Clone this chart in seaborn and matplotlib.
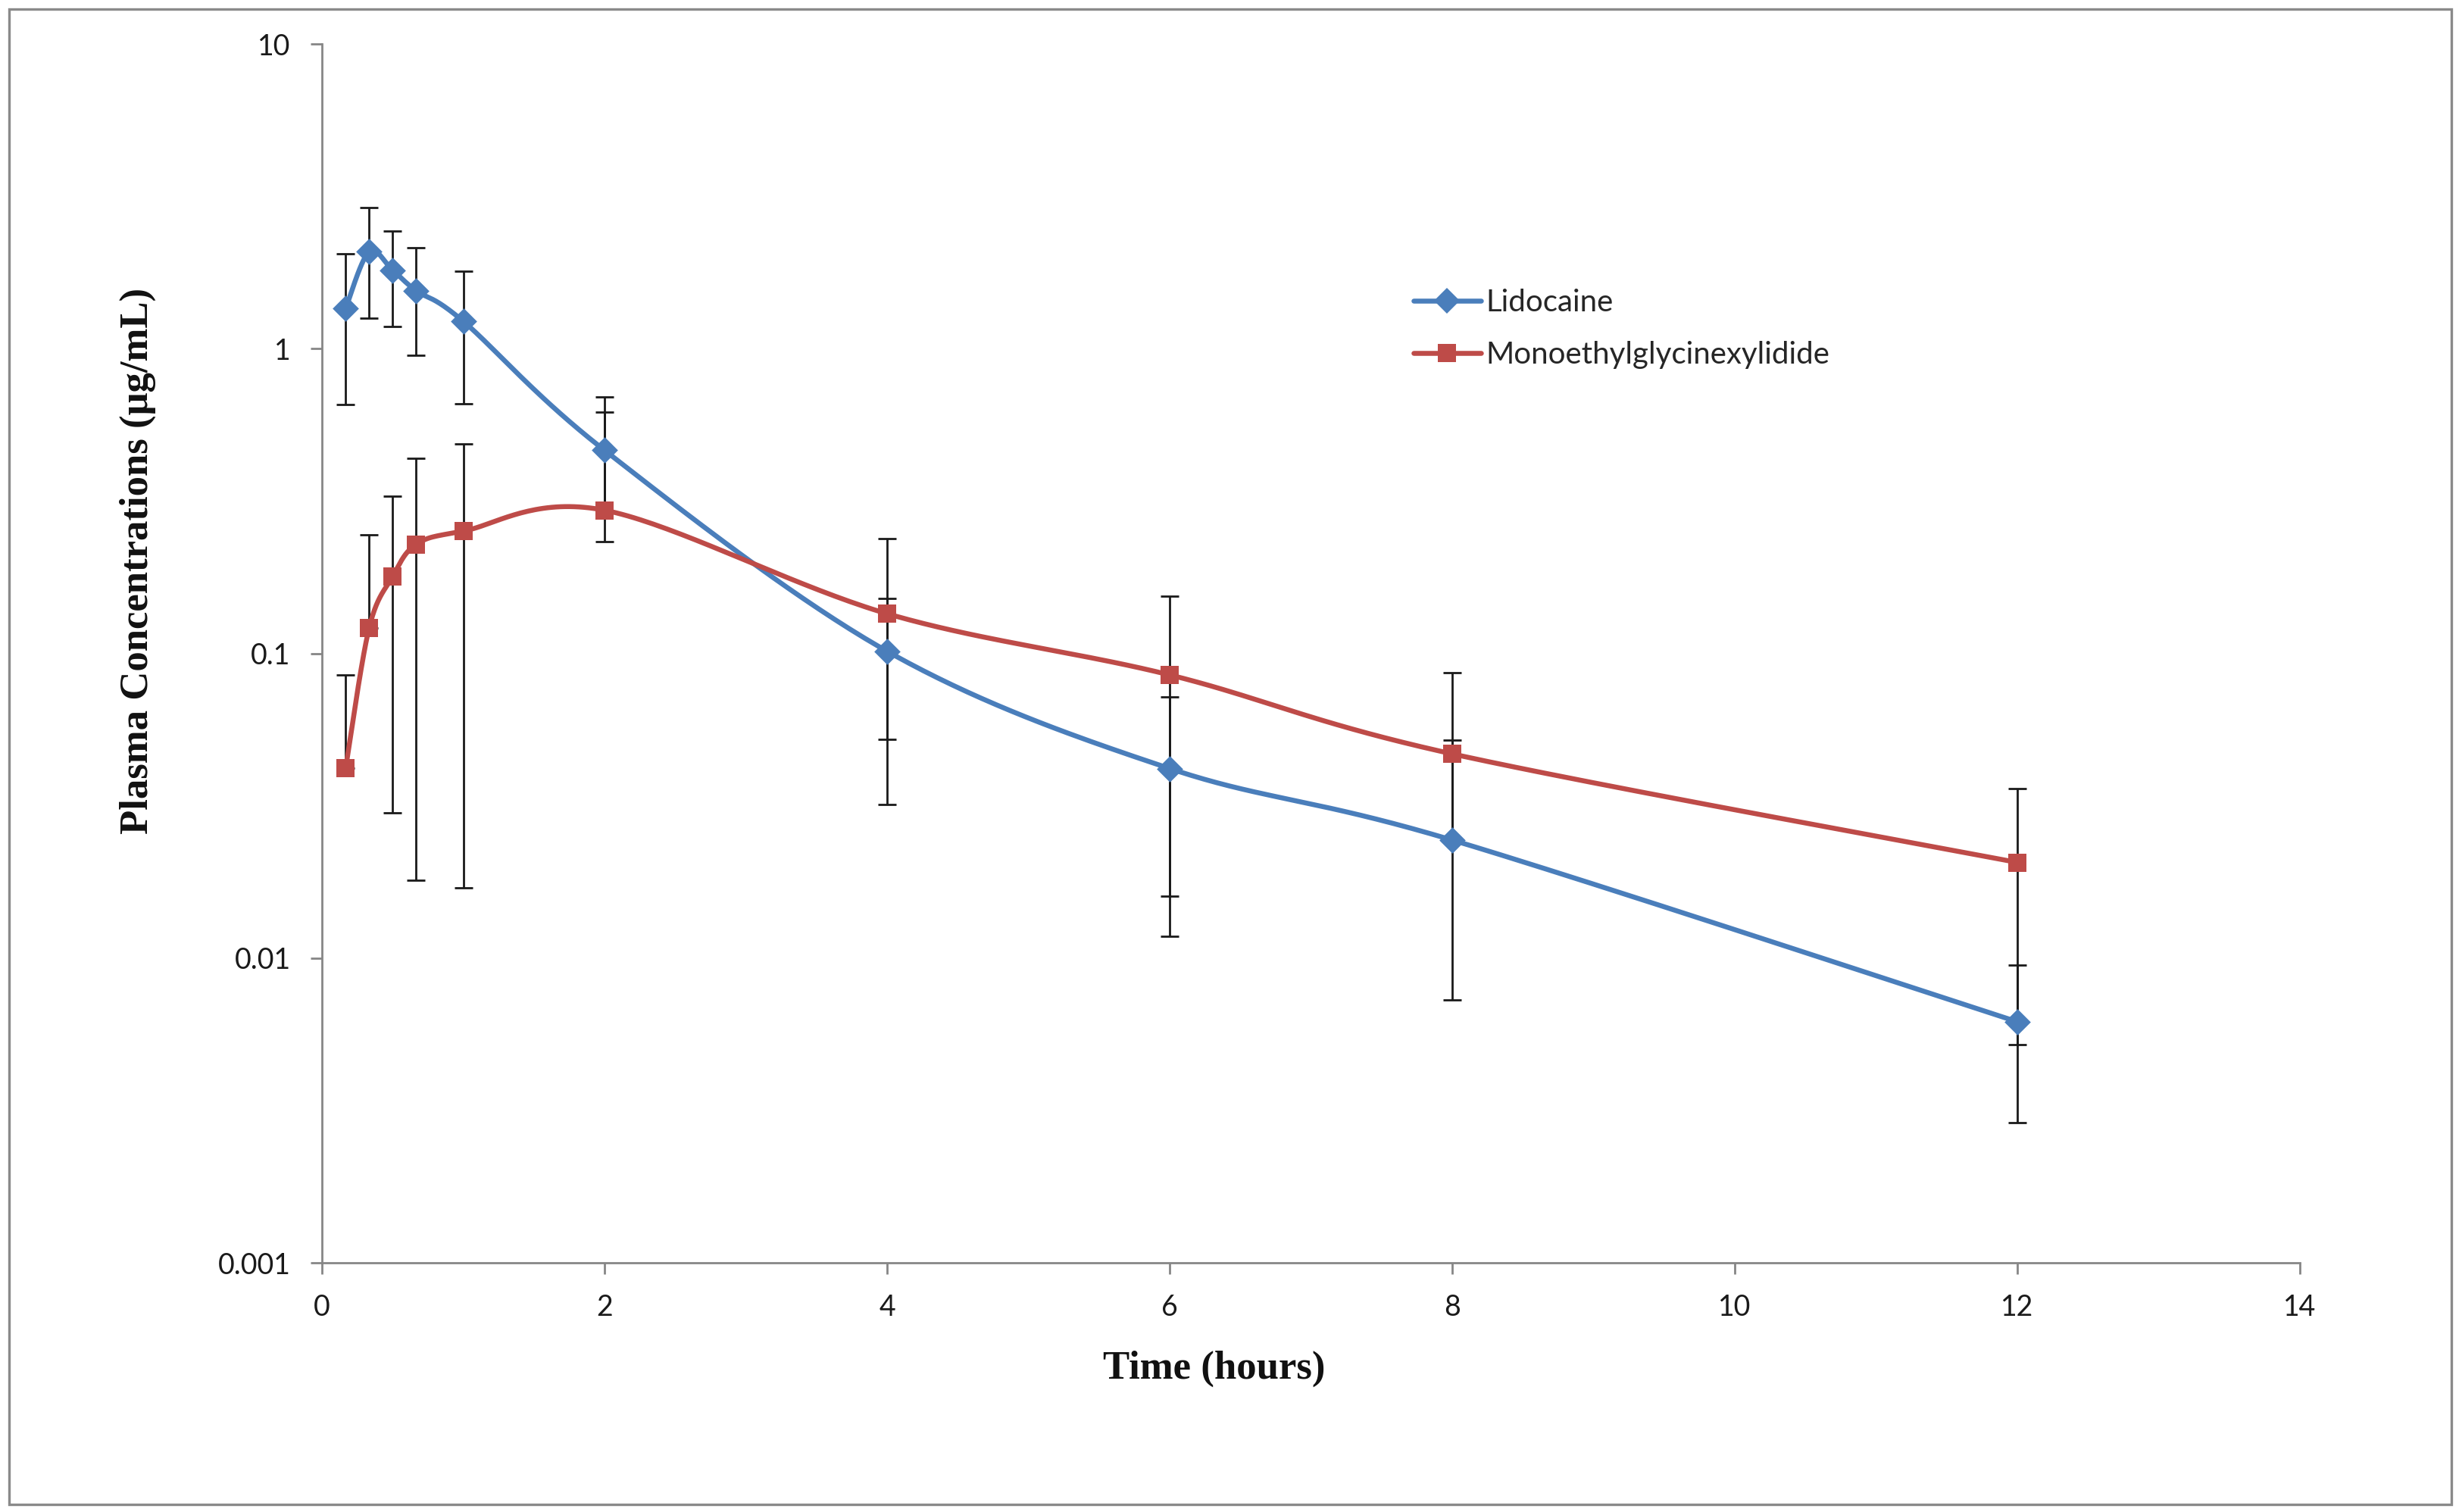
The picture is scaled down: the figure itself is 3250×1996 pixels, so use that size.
import numpy as np
import pandas as pd
import matplotlib
matplotlib.use("Agg")
import matplotlib.pyplot as plt
import seaborn as sns
from matplotlib.lines import Line2D
from matplotlib.patches import Rectangle
from matplotlib.ticker import FixedLocator, FixedFormatter, NullLocator

# ---------------- data ----------------
time_h = [0.167, 0.333, 0.5, 0.667, 1, 2, 4, 6, 8, 12]
lidocaine_mean = [1.355, 2.08, 1.81, 1.55, 1.23, 0.464, 0.1016, 0.0419, 0.0244, 0.00618]
lidocaine_sd = [0.70, 0.82, 0.63, 0.60, 0.57, 0.231, 0.0495, 0.0301, 0.0276, 0.0033]
megx_mean = [0.042, 0.121, 0.179, 0.228, 0.252, 0.295, 0.135, 0.085, 0.0468, 0.0206]
megx_sd = [0.043, 0.124, 0.149, 0.21, 0.235, 0.326, 0.103, 0.069, 0.0395, 0.0154]
series_names = ["Lidocaine", "Monoethylglycinexylidide"]
x_ticks = [0, 2, 4, 6, 8, 10, 12, 14]
y_ticks = [0.001, 0.01, 0.1, 1, 10]
y_tick_labels = ["0.001", "0.01", "0.1", "1", "10"]

BLUE = "#4A7EBB"
RED = "#BE4B48"

sns.set_style("ticks")
plt.rcParams["font.family"] = ["Lato", "DejaVu Sans"]

fig = plt.figure(figsize=(16.25, 9.98), dpi=200)
ax = fig.add_axes([0.1308, 0.1648, 0.8034, 0.8061])


def smooth_curve(x, y, n=40):
    """Excel-like smoothed line: Catmull-Rom Bezier in (x, log10 y) space."""
    P = np.column_stack([np.asarray(x, float), np.log10(np.asarray(y, float))])
    Pe = np.vstack([P[0], P, P[-1]])
    t = np.linspace(0, 1, n)[:, None]
    segs = []
    for i in range(len(P) - 1):
        p0, p1, p2, p3 = Pe[i], Pe[i + 1], Pe[i + 2], Pe[i + 3]
        c1 = p1 + (p2 - p0) / 6.0
        c2 = p2 - (p3 - p1) / 6.0
        seg = (1 - t) ** 3 * p1 + 3 * (1 - t) ** 2 * t * c1 + 3 * (1 - t) * t ** 2 * c2 + t ** 3 * p2
        segs.append(seg if i == 0 else seg[1:])
    S = np.vstack(segs)
    return S[:, 0], 10 ** S[:, 1]


series = [
    (series_names[0], lidocaine_mean, lidocaine_sd, BLUE, "D", 78),
    (series_names[1], megx_mean, megx_sd, RED, "s", 72),
]

handles = []
for name, mean, sd, col, mk, ms in series:
    mean = np.asarray(mean)
    sd = np.asarray(sd)
    lower = np.where(mean - sd > 0, sd, 0.0)
    ax.errorbar(time_h, mean, yerr=[lower, sd], fmt="none", ecolor="#1a1a1a",
                elinewidth=1.0, capsize=4.2, capthick=1.0, zorder=2)
    sx, sy = smooth_curve(time_h, mean)
    sns.lineplot(x=sx, y=sy, sort=False, estimator=None, color=col, linewidth=2.35,
                 ax=ax, zorder=3, legend=False)
    sns.scatterplot(x=time_h, y=mean, marker=mk, s=ms, color=col, edgecolor=col,
                    linewidth=0, ax=ax, zorder=4, legend=False)
    handles.append(Line2D([0], [0], color=col, lw=2.35, marker=mk,
                          markersize=np.sqrt(ms), markeredgewidth=0))

ax.set_yscale("log")
ax.set_xlim(0, 14)
ax.set_ylim(0.001, 10)
ax.xaxis.set_major_locator(FixedLocator(x_ticks))
ax.yaxis.set_major_locator(FixedLocator(y_ticks))
ax.yaxis.set_major_formatter(FixedFormatter(y_tick_labels))
ax.yaxis.set_minor_locator(NullLocator())
ax.xaxis.set_minor_locator(NullLocator())
ax.set_xlabel("")
ax.set_ylabel("")

for side in ["top", "right"]:
    ax.spines[side].set_visible(False)
for side in ["left", "bottom"]:
    ax.spines[side].set_color("#868686")
    ax.spines[side].set_linewidth(1.0)
ax.tick_params(axis="both", which="major", direction="out", length=5.4, width=1.0,
               color="#868686", labelsize=13.5, labelcolor="#1a1a1a", pad=9.5)
for lab in ax.get_xticklabels() + ax.get_yticklabels():
    lab.set_family(["Lato", "DejaVu Sans"])

serif = ["Liberation Serif", "DejaVu Serif"]
fig.text(1603 / 3250, 1 - 1807 / 1996, "Time (hours)", ha="center", va="center",
         fontsize=19, fontweight="bold", family=serif, color="#111111")
fig.text(182 / 3250, 1 - 740 / 1996, "Plasma Concentrations (μg/mL)", ha="center",
         va="center", rotation=90, fontsize=19, fontweight="bold", family=serif,
         color="#111111")

ax.legend(handles, series_names, loc="upper left",
          bbox_to_anchor=(1866 / 3250, 1 - 381 / 1996), bbox_transform=fig.transFigure,
          frameon=False, borderpad=0, borderaxespad=0, handlelength=2.2,
          handletextpad=0.18, labelspacing=0.8,
          prop={"family": ["Lato", "DejaVu Sans"], "size": 14.5})

fig.patches.append(Rectangle((12 / 3250, 1 - 1986 / 1996), (3236 - 12) / 3250,
                             (1986 - 12) / 1996, transform=fig.transFigure,
                             fill=False, edgecolor="#8a8a8a", linewidth=1.2))

fig.savefig("out.png", dpi=200, facecolor="white")
